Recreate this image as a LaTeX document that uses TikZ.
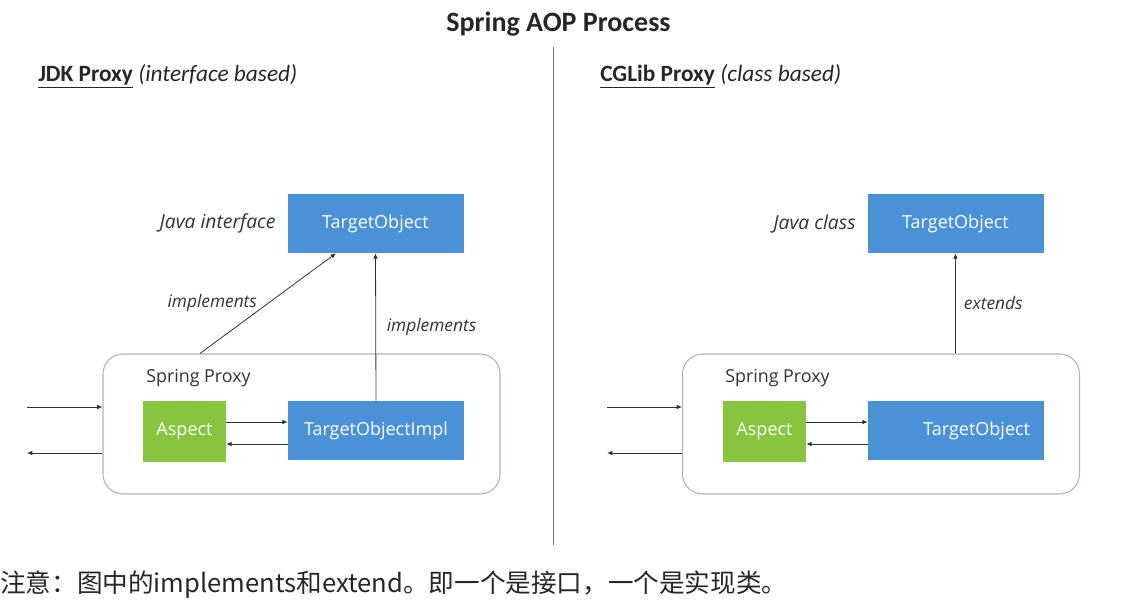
\documentclass[tikz,border=0pt]{standalone}
\usepackage{fontspec}
\setmainfont{Open Sans}
\newfontfamily\carlito{Carlito}
\newfontfamily\cjk{Noto Sans CJK SC}
\usetikzlibrary{arrows.meta,positioning,calc}
\definecolor{AOP-BLUE}{RGB}{75,145,215}
\definecolor{AOP-GREEN}{RGB}{136,197,62}
\definecolor{AOP-LINE}{RGB}{50,50,50}
\definecolor{AOP-FRAME}{RGB}{170,180,190}

\begin{document}
\begin{tikzpicture}[x=0.75pt,y=-0.75pt,
  blubox/.style={fill=AOP-BLUE, text=white, minimum width=132pt, minimum height=44.25pt,
    inner sep=0pt, font=\fontsize{13.5}{16}\selectfont},
  grnbox/.style={fill=AOP-GREEN, text=white, minimum width=62.25pt, minimum height=45.75pt,
    inner sep=0pt, font=\fontsize{13.5}{16}\selectfont},
  proxybox/.style={draw=AOP-FRAME, line width=0.8pt, rounded corners=15pt,
    minimum width=297.75pt, minimum height=105pt, inner sep=0pt},
  arr/.style={-{Latex[length=4pt,width=3.5pt]}, AOP-LINE, line width=0.6pt},
  lbl/.style={font=\itshape\fontsize{13}{15}\selectfont, text=black!80, inner sep=1pt},
  kind/.style={font=\itshape\fontsize{14.5}{17}\selectfont, text=black!80, inner sep=1pt},
  hdr/.style={font=\carlito\fontsize{17.5}{20}\selectfont, text=black!85, anchor=west, inner sep=0pt}]

  \useasboundingbox (0,0) rectangle (1131,608);

  % Title and divider
  \node[font=\carlito\bfseries\fontsize{21}{25}\selectfont, text=black!85] (title) at (558.5,24) {Spring AOP Process};
  \draw[black!55, line width=0.6pt] (553,47) -- (553,545);

  % JDK proxy (left)
  \node[hdr] (hdrL) at (38,76) {\textbf{\underline{JDK Proxy}} \textit{(interface based)}};

  \node[proxybox] (proxyL) at (301.5,424) {};
  \node[anchor=west, inner sep=0pt, font=\fontsize{13.4}{16}\selectfont, text=black!80] (spL) at (146,378) {Spring Proxy};
  \node[blubox] (tgtL) at (375.5,223.5) {TargetObject};
  \node[kind, left=7.5pt of tgtL] (jiL) {Java interface};
  \node[grnbox] (asL) at (184.5,431.5) {Aspect};
  \node[blubox] (implL) at (376,430.5) {TargetObjectImpl};

  % calls in and out
  \coordinate (inL) at (27,407);
  \coordinate (outL) at (27,453);
  \draw[arr] (inL) -- (inL -| proxyL.west);
  \draw[arr] (outL -| proxyL.west) -- (outL);
  \path ([yshift=7.1pt]asL.east) coordinate (a1L) ([yshift=-9.4pt]asL.east) coordinate (a2L);
  \draw[arr] (a1L) -- (a1L -| implL.west);
  \draw[arr] (a2L -| implL.west) -- (a2L);

  % implements
  \draw[arr] ($(proxyL.north)+(-101.5,0)$) -- ($(tgtL.south)+(-39.5,0)$)
    node[lbl, midway, left=7pt] {implements};
  \draw[arr] (implL.north) -- (tgtL.south)
    node[lbl, midway, right=7pt] {implements};

  % CGLib proxy (right)
  \node[hdr] (hdrR) at (600,76) {\textbf{\underline{CGLib Proxy}} \textit{(class based)}};

  \node[proxybox] (proxyR) at (881,424) {};
  \node[anchor=west, inner sep=0pt, font=\fontsize{13.4}{16}\selectfont, text=black!80] (spR) at (725,378) {Spring Proxy};
  \node[blubox] (tgtR) at (955.5,223.5) {TargetObject};
  \node[kind, left=7.5pt of tgtR] (jcR) {Java class};
  \node[grnbox] (asR) at (764.5,431.5) {Aspect};
  \node[blubox, text width=111pt, align=right, inner xsep=10.5pt] (objR) at (956,430.5) {TargetObject};

  \coordinate (inR) at (607,407);
  \coordinate (outR) at (607,453);
  \draw[arr] (inR) -- (inR -| proxyR.west);
  \draw[arr] (outR -| proxyR.west) -- (outR);
  \path ([yshift=7.1pt]asR.east) coordinate (a1R) ([yshift=-9.4pt]asR.east) coordinate (a2R);
  \draw[arr] (a1R) -- (a1R -| objR.west);
  \draw[arr] (a2R -| objR.west) -- (a2R);

  % extends
  \draw[arr] (tgtR.south |- proxyR.north) -- (tgtR.south)
    node[lbl, midway, right=5pt] {extends};

  % note
  \node[anchor=west, inner sep=0pt, font=\cjk\fontsize{19.2}{23}\selectfont, text=black!85] (note) at (0,585)
    {注意：图中的implements和extend。即一个是接口，一个是实现类。};
\end{tikzpicture}
\end{document}
